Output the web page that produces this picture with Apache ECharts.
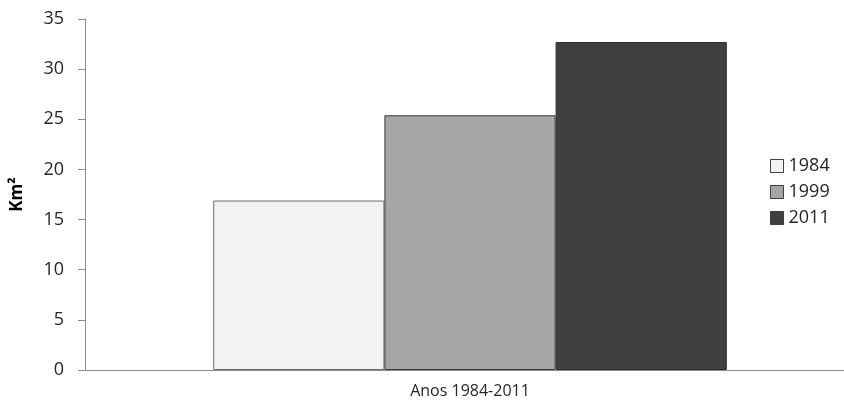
<!DOCTYPE html>
<html>
<head>
<meta charset="utf-8">
<script src="https://cdn.jsdelivr.net/npm/echarts@6/dist/echarts.min.js"></script>
<style>html,body{margin:0;padding:0;background:#fff;overflow:hidden;width:844px;height:408px}#c{width:856px;height:408px}</style>
</head>
<body>
<div id="c"></div>
<script>
const categories = ['Anos 1984-2011'];
const seriesNames = ['1984', '1999', '2011'];
const values1984 = [16.9];
const values1999 = [25.4];
const values2011 = [32.7];
const yTicks = [0, 5, 10, 15, 20, 25, 30, 35];

const colors = ['#f2f2f2', '#a6a6a6', '#404040'];
const borders = ['#6e6e6e', '#3a3a3a', '#2a2a2a'];
const dataSets = [values1984, values1999, values2011];
const font = '"Open Sans", "Noto Sans", sans-serif';

const chart = echarts.init(document.getElementById('c'));
chart.setOption({
  animation: false,
  textStyle: { fontFamily: font },
  grid: { left: 85, right: 1, top: 19, bottom: 38, containLabel: false },
  legend: {
    orient: 'vertical',
    left: 765,
    top: 152,
    itemWidth: 13,
    itemHeight: 13,
    itemGap: 8,
    icon: 'rect',
    textStyle: { fontFamily: font, fontSize: 18, lineHeight: 18, color: '#262626' },
    data: seriesNames.map((n, i) => ({ name: n, itemStyle: { color: colors[i], borderColor: '#404040', borderWidth: 1 } }))
  },
  xAxis: {
    type: 'category',
    data: categories,
    axisLine: { lineStyle: { color: '#8c8c8c', width: 1 } },
    axisTick: { show: false },
    axisLabel: { fontFamily: font, fontSize: 16, color: '#262626', margin: 13 }
  },
  yAxis: {
    type: 'value',
    min: yTicks[0],
    max: yTicks[yTicks.length - 1],
    interval: 5,
    name: 'Km²',
    nameLocation: 'middle',
    nameGap: 59,
    nameTextStyle: { fontFamily: font, fontSize: 17, fontWeight: 'bold', color: '#000' },
    axisLine: { show: true, lineStyle: { color: '#8c8c8c', width: 1 } },
    axisTick: { show: true, length: 7, lineStyle: { color: '#8c8c8c' } },
    splitLine: { show: false },
    axisLabel: { fontFamily: font, fontSize: 18, color: '#262626', margin: 21 }
  },
  series: seriesNames.map((n, i) => ({
    name: n,
    type: 'bar',
    data: dataSets[i],
    barGap: '0%',
    barCategoryGap: '33.3%',
    itemStyle: { color: colors[i], borderColor: borders[i], borderWidth: 1 }
  }))
});
</script>
</body>
</html>
